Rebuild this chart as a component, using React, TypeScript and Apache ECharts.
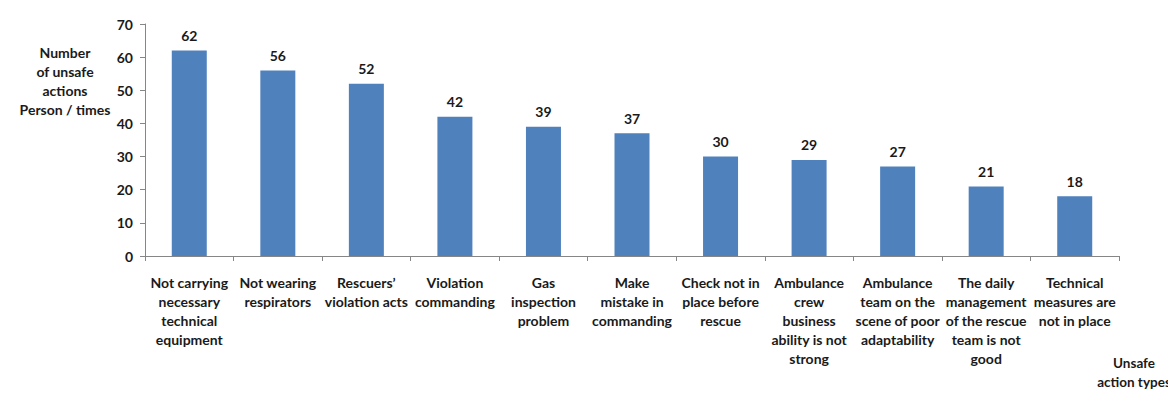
import React, { useEffect, useRef } from "react";
import * as echarts from "echarts";

const categories: string[] = [
  "Not carrying\nnecessary\ntechnical\nequipment",
  "Not wearing\nrespirators",
  "Rescuers’\nviolation acts",
  "Violation\ncommanding",
  "Gas\ninspection\nproblem",
  "Make\nmistake in\ncommanding",
  "Check not in\nplace before\nrescue",
  "Ambulance\ncrew\nbusiness\nability is not\nstrong",
  "Ambulance\nteam on the\nscene of poor\nadaptability",
  "The daily\nmanagement\nof the rescue\nteam is not\ngood",
  "Technical\nmeasures are\nnot in place",
];
const values: number[] = [62, 56, 52, 42, 39, 37, 30, 29, 27, 21, 18];
const yTitle = "Number\nof unsafe\nactions\nPerson / times";
const xTitle = "Unsafe\naction types";

const FONT = "Lato";
const TEXT = "#1a1a1a";

export default function App() {
  const ref = useRef<HTMLDivElement>(null);
  useEffect(() => {
    if (!ref.current) return;
    document.documentElement.style.overflow = "hidden";
    document.body.style.overflow = "hidden";
    const chart = echarts.init(ref.current, undefined, { renderer: "svg" });
    chart.setOption({
      animation: false,
      textStyle: { fontFamily: FONT },
      grid: { left: 139, right: 57, top: 19, bottom: 157, containLabel: false },
      xAxis: {
        type: "category",
        data: categories,
        axisLine: { lineStyle: { color: "#868686", width: 1 } },
        axisTick: { show: true, length: 5, alignWithLabel: false, lineStyle: { color: "#868686" } },
        axisLabel: {
          interval: 0,
          margin: 17,
          color: TEXT,
          fontFamily: FONT,
          fontWeight: "bold",
          fontSize: 14,
          lineHeight: 19,
        },
      },
      yAxis: {
        type: "value",
        min: 0,
        max: 70,
        interval: 10,
        splitLine: { show: false },
        axisLine: { show: true, lineStyle: { color: "#868686", width: 1 } },
        axisTick: { show: true, length: 5, lineStyle: { color: "#868686" } },
        axisLabel: {
          margin: 12,
          color: TEXT,
          fontFamily: FONT,
          fontWeight: "bold",
          fontSize: 14,
        },
      },
      series: [
        {
          type: "bar",
          data: values,
          barWidth: 35,
          itemStyle: { color: "#4F81BD" },
          label: {
            show: true,
            position: "top",
            distance: 8,
            color: TEXT,
            fontFamily: FONT,
            fontWeight: "bold",
            fontSize: 14,
          },
        },
      ],
      graphic: [
        {
          type: "rect",
          shape: { x: 0.75, y: 0.75, width: 1200, height: 440 },
          style: { fill: "none", stroke: "#c2c2c2", lineWidth: 1.5 },
          silent: true,
        },
        {
          type: "text",
          x: 59,
          y: 38,
          style: {
            text: yTitle,
            align: "center",
            font: `bold 14px ${FONT}`,
            lineHeight: 19,
            fill: TEXT,
          },
        },
        {
          type: "text",
          x: 1128,
          y: 348,
          style: {
            text: xTitle,
            align: "center",
            font: `bold 13.5px ${FONT}`,
            lineHeight: 19,
            fill: TEXT,
          },
        },
      ],
    });
    return () => chart.dispose();
  }, []);
  return (
    <div
      ref={ref}
      style={{ marginLeft: -2, marginTop: -3, width: 1170, height: 408 }}
    />
  );
}
